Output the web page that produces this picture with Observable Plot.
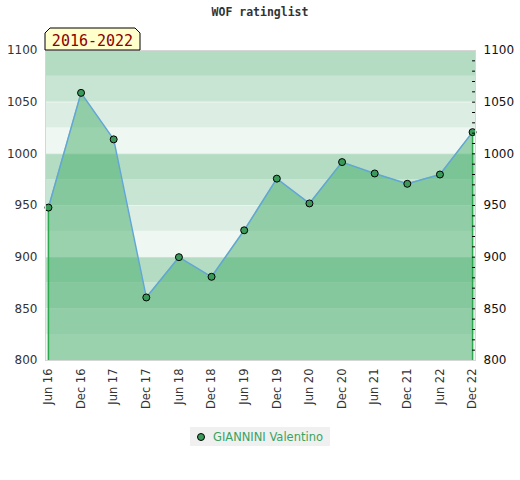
<!DOCTYPE html>
<html>
<head>
<meta charset="utf-8">
<script src="https://cdn.jsdelivr.net/npm/d3@7"></script>
<script src="https://cdn.jsdelivr.net/npm/@observablehq/plot@0.6"></script>
<style>
  body { margin: 0; background: #fff; font-family: "DejaVu Sans", sans-serif; }
  #wrap { position: relative; width: 520px; }
  #title { position: absolute; left: 0; top: 5px; width: 520px; text-align: center;
           font: bold 11.5px "DejaVu Sans Mono", monospace; color: #333; }
  #legend { margin: 7px auto 0; width: 140px; height: 19px; background: #f0f0f0;
            display: flex; align-items: center; justify-content: center; gap: 8px;
            font: 11.5px "DejaVu Sans", sans-serif; color: #3aa35e; }
  #legend .dot { width: 6px; height: 6px; border-radius: 50%; background: #3a9a5a; border: 1px solid #000; }
</style>
</head>
<body>
<div id="wrap">
  <div id="title">WOF ratinglist</div>
  <div id="chart"></div>
  <div id="legend"><span class="dot"></span><span>GIANNINI Valentino</span></div>
</div>
<script>
const periods = ["Jun 16","Dec 16","Jun 17","Dec 17","Jun 18","Dec 18","Jun 19","Dec 19","Jun 20","Dec 20","Jun 21","Dec 21","Jun 22","Dec 22"];
const ratings = [948, 1059, 1014, 861, 900, 881, 926, 976, 952, 992, 981, 971, 980, 1021];
const bandStarts = [800, 825, 850, 875, 900, 925, 950, 975, 1000, 1025, 1050, 1075];
const yLabels = [800, 850, 900, 950, 1000, 1050, 1100];
const yMinor = d3.range(800, 1101, 10);
const playerName = "GIANNINI Valentino";
const badgeText = "2016-2022";

const data = periods.map((p, i) => ({i, p, v: ratings[i]}));
const bandColor = s => ({75: "#b3dcc2", 50: "#c8e5d3", 25: "#dceee3", 0: "#eff7f2"})[s % 100];
const bands = bandStarts.map(s => ({y1: s, y2: s + 25, c: bandColor(s)}));
const last = periods.length - 1;
const pad = 0.09;
const fmt = d3.format("d");

const chart = Plot.plot({
  width: 520,
  height: 420,
  marginTop: 50,
  marginBottom: 60,
  marginLeft: 45,
  marginRight: 45,
  style: {fontFamily: "DejaVu Sans, sans-serif", fontSize: "11.5px", color: "#333", background: "transparent"},
  x: {domain: [-pad, last + pad]},
  y: {domain: [800, 1100]},
  marks: [
    Plot.rectY(bands, {x1: -pad, x2: last + pad, y1: "y1", y2: "y2", fill: "c"}),
    Plot.ruleY(yLabels.slice(1, -1), {x1: -pad, x2: last + pad, stroke: "#fff", strokeOpacity: 0.35}),
    Plot.areaY(data, {x: "i", y1: 800, y2: "v", fill: "rgb(62,170,100)", fillOpacity: 0.48}),
    Plot.ruleX([data[0], data[last]], {x: "i", y1: 800, y2: "v", stroke: "#2ea84f", strokeWidth: 1.5}),
    Plot.line(data, {x: "i", y: "v", stroke: "#62a6d6", strokeWidth: 1.5}),
    Plot.dot(data, {x: "i", y: "v", r: 3.5, fill: "#3a9a5a", stroke: "#000", strokeWidth: 1}),
    Plot.ruleY(yMinor, {x1: last, x2: last + pad, stroke: "#000"}),
    Plot.frame({stroke: "#d6d6d6"}),
    Plot.axisY({anchor: "left", ticks: yLabels, tickFormat: fmt, tickSize: 0, tickPadding: 8, label: null, fontSize: 12}),
    Plot.axisY({anchor: "right", ticks: yLabels, tickFormat: fmt, tickSize: 0, tickPadding: 8, label: null, fontSize: 12, fill: "#111"}),
    Plot.axisX({ticks: d3.range(periods.length), tickFormat: i => periods[i], tickRotate: -90, tickSize: 0, tickPadding: 8, label: null, fontSize: 11.5})
  ]
});
document.getElementById("chart").appendChild(chart);

// badge
const svg = d3.select(chart);
const g = svg.append("g");
const bx0 = 45, bx1 = 140, by0 = 28, by1 = 50, cut = 5;
g.append("path")
  .attr("d", `M${bx0},${by1} L${bx0},${by0 + cut} L${bx0 + cut},${by0} L${bx1 - cut},${by0} L${bx1},${by0 + cut} L${bx1},${by1} Z`)
  .attr("fill", "#ffffcc").attr("stroke", "#000").attr("stroke-width", 1);
g.append("text").attr("x", (bx0 + bx1) / 2).attr("y", 46).attr("text-anchor", "middle")
  .attr("font-family", "DejaVu Sans Mono, monospace").attr("font-size", 15).attr("fill", "#8b0000")
  .text(badgeText);
</script>
</body>
</html>
